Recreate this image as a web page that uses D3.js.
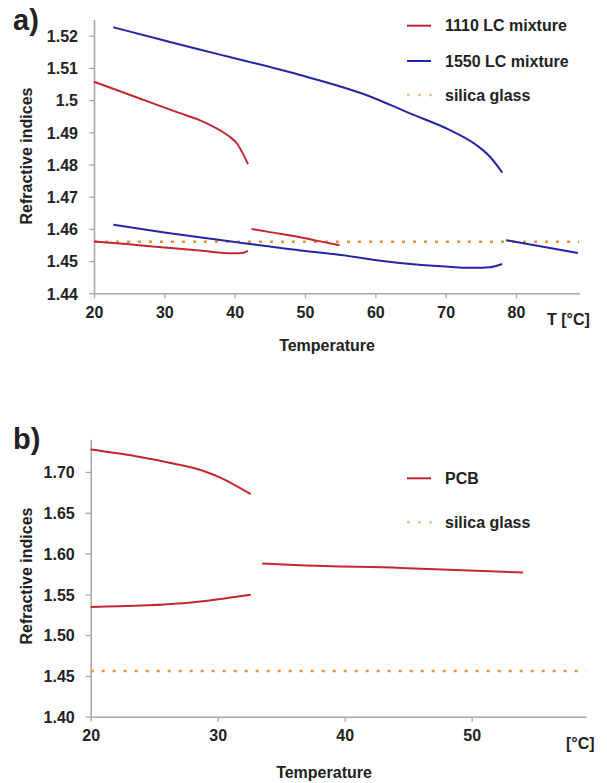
<!DOCTYPE html>
<html><head><meta charset="utf-8">
<script src="https://cdn.jsdelivr.net/npm/d3@7"></script>
<style>
body{margin:0;background:#fff;}
svg text{font-family:"Liberation Sans",Arial,sans-serif;font-weight:bold;fill:#222;}
</style></head>
<body><svg id="c" width="607" height="783"></svg>
<script>
// ---- Panel a data ----
const aXTicks = [20,30,40,50,60,70,80];
const aYTicks = [1.44,1.45,1.46,1.47,1.48,1.49,1.50,1.51,1.52];
const aYTickLabels = ["1.44","1.45","1.46","1.47","1.48","1.49","1.5","1.51","1.52"];
const a1110upper = [[20,1.5057],[24,1.5025],[28,1.4993],[32,1.4961],[35,1.4938],[38,1.4905],[39.3,1.4886],[40.3,1.4866],[41.9,1.4801]];
const a1110lower = [[20,1.4561],[25,1.4552],[30,1.4542],[35,1.4533],[39.8,1.4524],[41,1.4525],[41.9,1.4532]];
const a1110iso   = [[42.4,1.4600],[45,1.4590],[49.3,1.4574],[52,1.4562],[54.9,1.4549]];
const a1550upper = [[22.75,1.5226],[30,1.5185],[35,1.5157],[40,1.5130],[49.3,1.5078],[58.7,1.5016],[65,1.4958],[70.6,1.4907],[74.4,1.4860],[76.3,1.4824],[78.05,1.4775]];
const a1550lower = [[22.75,1.4613],[30,1.4589],[35,1.4574],[39.8,1.4560],[45,1.4545],[49.3,1.4533],[54,1.4522],[63.5,1.4494],[70,1.4483],[73.9,1.4479],[76.3,1.4481],[78.05,1.4491]];
const a1550iso   = [[78.6,1.4565],[88.8,1.4525]];
const aSilica = [[20,1.456],[89,1.456]];
const aLegend = ["1110 LC mixture","1550 LC mixture","silica glass"];

// ---- Panel b data ----
const bXTicks = [20,30,40,50];
const bYTicks = [1.40,1.45,1.50,1.55,1.60,1.65,1.70];
const bYTickLabels = ["1.40","1.45","1.50","1.55","1.60","1.65","1.70"];
const bPCBupper = [[20,1.7275],[23.9,1.7184],[26.5,1.7103],[29.1,1.7000],[30.2,1.6931],[32.6,1.6727]];
const bPCBlower = [[20,1.5346],[23.9,1.5362],[28.1,1.5404],[29.9,1.5437],[32.6,1.5495]];
const bPCBiso   = [[33.5,1.5877],[36.5,1.5857],[44.4,1.5824],[54.05,1.5767]];
const bSilica = [[20,1.456],[59,1.456]];
const bLegend = ["PCB","silica glass"];

const RED="#c4272d", BLUE="#2424a6", ORANGE="#e8923a", AXIS="#a8a8a8";
const svg = d3.select("#c");

function panel(o){
  const g = svg.append("g");
  const x = d3.scaleLinear().domain(o.xd).range(o.xr);
  const y = d3.scaleLinear().domain(o.yd).range(o.yr);
  const xa = g.append("g").attr("transform",`translate(0,${o.yr[0]})`)
    .call(d3.axisBottom(x).tickValues(o.xt).tickSize(5).tickSizeOuter(0).tickFormat(d3.format("d")));
  const ya = g.append("g").attr("transform",`translate(${o.xr[0]},0)`)
    .call(d3.axisLeft(y).tickValues(o.yt).tickSize(5).tickSizeOuter(0).tickFormat((d,i)=>o.ytl[i]));
  [xa,ya].forEach(a=>{
    a.select(".domain").attr("stroke",AXIS).attr("stroke-width",1.6);
    a.selectAll(".tick line").attr("stroke",AXIS).attr("stroke-width",1.3);
    a.selectAll("text").attr("font-size",16).attr("font-family","Liberation Sans, Arial, sans-serif").attr("font-weight","bold").attr("fill","#222");
  });
  xa.selectAll("text").attr("dy",o.xdy);
  ya.selectAll("text").attr("dx",-8).attr("dy","0.36em");
  const line = d3.line().x(d=>x(d[0])).y(d=>y(d[1])).curve(d3.curveMonotoneX);
  g.append("path").datum(o.silica).attr("d",line).attr("fill","none")
    .attr("stroke",ORANGE).attr("stroke-width",2.4).attr("stroke-dasharray","3,8");
  o.series.forEach(s=>{
    g.append("path").datum(s.d).attr("d",line).attr("fill","none")
      .attr("stroke",s.c).attr("stroke-width",2);
  });
  g.append("text").attr("x",o.tlx).attr("y",o.tly).attr("font-size",16).text(o.tl);
  g.append("text").attr("x",o.xlx).attr("y",o.xly).attr("text-anchor","middle").attr("font-size",16).text("Temperature");
  g.append("text").attr("transform",`translate(${o.ylx},${o.yly}) rotate(-90)`).attr("text-anchor","middle").attr("font-size",16).text("Refractive indices");
  g.append("text").attr("x",o.px).attr("y",o.py).attr("font-size",29).text(o.pl);
  o.legend.forEach((L,i)=>{
    const ly = o.legY[i];
    if(L.dot){
      g.append("line").attr("x1",407).attr("x2",432).attr("y1",ly).attr("y2",ly)
        .attr("stroke",ORANGE).attr("stroke-opacity",0.55).attr("stroke-width",2.4).attr("stroke-dasharray","3,8");
    } else {
      g.append("line").attr("x1",407).attr("x2",431).attr("y1",ly).attr("y2",ly)
        .attr("stroke",L.c).attr("stroke-width",2);
    }
    g.append("text").attr("x",445).attr("y",ly).attr("dy","0.36em").attr("font-size",16).text(L.t);
  });
}

panel({
  xd:[20,89], xr:[94,579.3], yd:[1.44,1.525], yr:[293.3,19.6],
  xt:aXTicks, yt:aYTicks, ytl:aYTickLabels, xdy:"1.05em",
  silica:aSilica,
  series:[{d:a1110upper,c:RED},{d:a1110lower,c:RED},{d:a1110iso,c:RED},
          {d:a1550upper,c:BLUE},{d:a1550lower,c:BLUE},{d:a1550iso,c:BLUE}],
  tl:"T [°C]", tlx:547, tly:325,
  xlx:327, xly:351, ylx:32, yly:156,
  pl:"a)", px:13, py:30,
  legend:[{t:aLegend[0],c:RED},{t:aLegend[1],c:BLUE},{t:aLegend[2],dot:true}],
  legY:[25.7,61,95]
});
panel({
  xd:[20,59], xr:[90.7,586], yd:[1.40,1.74], yr:[716.7,439.3],
  xt:bXTicks, yt:bYTicks, ytl:bYTickLabels, xdy:"1.05em",
  silica:bSilica,
  series:[{d:bPCBupper,c:RED},{d:bPCBlower,c:RED},{d:bPCBiso,c:RED}],
  tl:"[°C]", tlx:566, tly:749,
  xlx:324, xly:778, ylx:32, yly:576,
  pl:"b)", px:13, py:449,
  legend:[{t:bLegend[0],c:RED},{t:bLegend[1],dot:true}],
  legY:[478.3,522.3]
});
</script></body></html>
